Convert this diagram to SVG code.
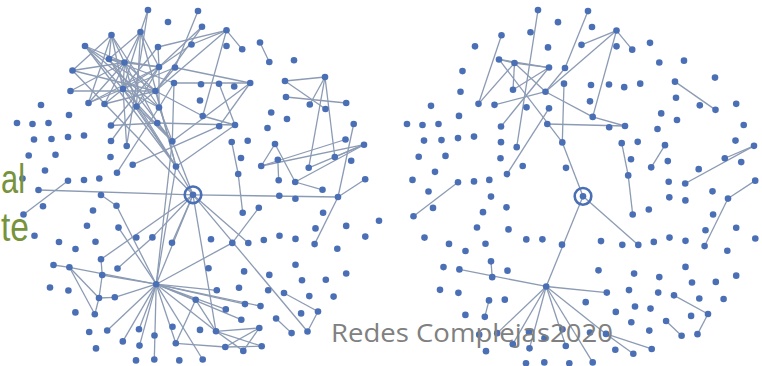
<svg xmlns="http://www.w3.org/2000/svg" xmlns:xlink="http://www.w3.org/1999/xlink" width="762" height="366" viewBox="0 0 762 366">
<style>
.e line{stroke:#8c9bb4;stroke-width:1.3;fill:none}
.n circle{fill:#4a6fb5}
.n circle.ring{fill:none;stroke:#4a6fb5;stroke-width:2.6}
.lbl{font-family:"Liberation Sans",Arial,sans-serif;font-size:40px;fill:#77933c}
.foot{font-family:"Open Sans","Liberation Sans",sans-serif;font-size:25px;fill:#808080}
</style>
<rect width="762" height="366" fill="#ffffff"/>
<g id="connectors">
<g id="edgesCommon" class="e">
<line x1="148" y1="10" x2="126.7" y2="146"/>
<line x1="111.5" y1="35" x2="88.5" y2="103"/>
<line x1="109" y1="59" x2="124.5" y2="62.5"/>
<line x1="109" y1="59" x2="159" y2="67"/>
<line x1="124.5" y1="62.5" x2="159" y2="67"/>
<line x1="124.5" y1="62.5" x2="123" y2="89"/>
<line x1="124.5" y1="62.5" x2="155.5" y2="91"/>
<line x1="123" y1="89" x2="159" y2="67"/>
<line x1="88.5" y1="103" x2="124.5" y2="62.5"/>
<line x1="104.5" y1="104" x2="155.5" y2="91"/>
<line x1="155.5" y1="91" x2="175" y2="67.5"/>
<line x1="109" y1="59" x2="172.3" y2="141.3"/>
<line x1="174" y1="83" x2="172.3" y2="141.3"/>
<line x1="111" y1="125.5" x2="159" y2="67"/>
<line x1="117" y1="172.7" x2="159" y2="107.5"/>
<line x1="198" y1="11" x2="175" y2="67.5"/>
<line x1="226.5" y1="30.3" x2="191.5" y2="44.5"/>
<line x1="226.5" y1="30.3" x2="242.2" y2="49.3"/>
<line x1="226.5" y1="30.3" x2="155.5" y2="91"/>
<line x1="226.5" y1="30.3" x2="202.7" y2="116"/>
<line x1="155.5" y1="91" x2="202.7" y2="116"/>
<line x1="157.3" y1="123" x2="235" y2="125"/>
<line x1="202.7" y1="116" x2="235" y2="125"/>
<line x1="231.7" y1="142" x2="238.2" y2="174"/>
<line x1="275" y1="144" x2="261.2" y2="166"/>
<line x1="285" y1="81" x2="325.5" y2="109"/>
<line x1="364" y1="144.7" x2="334.8" y2="157"/>
<line x1="364" y1="144.7" x2="295.2" y2="182"/>
<line x1="23.5" y1="214.5" x2="68" y2="180.8"/>
<line x1="69.4" y1="267.3" x2="156.2" y2="284.2"/>
<line x1="101" y1="259.3" x2="102.2" y2="275"/>
<line x1="99" y1="298" x2="94.8" y2="314.3"/>
<line x1="193" y1="194.8" x2="156.2" y2="284.2"/>
<line x1="156.2" y1="284.2" x2="216.8" y2="290.3"/>
<line x1="156.2" y1="284.2" x2="107.2" y2="330.5"/>
<line x1="156.2" y1="284.2" x2="122.8" y2="341.4"/>
<line x1="156.2" y1="284.2" x2="139.5" y2="345.6"/>
<line x1="156.2" y1="284.2" x2="175.8" y2="343.3"/>
<line x1="156.2" y1="284.2" x2="202.7" y2="359.5"/>
<line x1="156.2" y1="284.2" x2="216" y2="331.3"/>
<line x1="193" y1="194.8" x2="172.3" y2="141.3"/>
<line x1="193" y1="194.8" x2="248.3" y2="243"/>
<line x1="238.2" y1="174" x2="242.7" y2="212.8"/>
<line x1="338" y1="197" x2="365.2" y2="179.2"/>
<line x1="338" y1="197" x2="314.6" y2="244.1"/>
<line x1="284" y1="293" x2="318" y2="311.5"/>
<line x1="318" y1="311.5" x2="307.5" y2="331.5"/>
<line x1="276.1" y1="318.5" x2="291.6" y2="333.1"/>
<line x1="216" y1="331.3" x2="261.7" y2="346.2"/>
<line x1="216" y1="331.3" x2="243.3" y2="350.9"/>
</g>
<g id="edgesLeft" class="e">
<line x1="148" y1="10" x2="140.5" y2="32"/>
<line x1="111.5" y1="35" x2="109" y2="59"/>
<line x1="111.5" y1="35" x2="72.5" y2="70.5"/>
<line x1="111.5" y1="35" x2="123" y2="89"/>
<line x1="111.5" y1="35" x2="159" y2="107.5"/>
<line x1="111.5" y1="35" x2="124.5" y2="62.5"/>
<line x1="140.5" y1="32" x2="109" y2="59"/>
<line x1="140.5" y1="32" x2="123" y2="89"/>
<line x1="140.5" y1="32" x2="136.5" y2="106.5"/>
<line x1="140.5" y1="32" x2="176" y2="166.5"/>
<line x1="140.5" y1="32" x2="159" y2="67"/>
<line x1="85" y1="46" x2="124.5" y2="62.5"/>
<line x1="85" y1="46" x2="159" y2="107.5"/>
<line x1="85" y1="46" x2="176" y2="166.5"/>
<line x1="85" y1="46" x2="155.5" y2="91"/>
<line x1="85" y1="46" x2="123" y2="89"/>
<line x1="158" y1="47" x2="226.5" y2="30.3"/>
<line x1="158" y1="47" x2="123" y2="89"/>
<line x1="158" y1="47" x2="159" y2="67"/>
<line x1="109" y1="59" x2="174" y2="83"/>
<line x1="109" y1="59" x2="176" y2="166.5"/>
<line x1="124.5" y1="62.5" x2="136.5" y2="106.5"/>
<line x1="124.5" y1="62.5" x2="157.3" y2="123"/>
<line x1="159" y1="67" x2="136.5" y2="106.5"/>
<line x1="159" y1="67" x2="159" y2="107.5"/>
<line x1="175" y1="67.5" x2="123" y2="89"/>
<line x1="175" y1="67.5" x2="250.2" y2="83"/>
<line x1="72.5" y1="70.5" x2="124.5" y2="62.5"/>
<line x1="72.5" y1="70.5" x2="155.5" y2="91"/>
<line x1="72.5" y1="70.5" x2="193" y2="194.8"/>
<line x1="123" y1="89" x2="172.3" y2="141.3"/>
<line x1="123" y1="89" x2="176" y2="166.5"/>
<line x1="123" y1="89" x2="159" y2="107.5"/>
<line x1="155.5" y1="91" x2="136.5" y2="106.5"/>
<line x1="155.5" y1="91" x2="176" y2="166.5"/>
<line x1="70.5" y1="91" x2="155.5" y2="91"/>
<line x1="70.5" y1="91" x2="124.5" y2="62.5"/>
<line x1="88.5" y1="103" x2="159" y2="67"/>
<line x1="88.5" y1="103" x2="123" y2="89"/>
<line x1="104.5" y1="104" x2="140.5" y2="32"/>
<line x1="104.5" y1="104" x2="123" y2="89"/>
<line x1="136.5" y1="106.5" x2="176" y2="166.5"/>
<line x1="136.5" y1="106.5" x2="172.3" y2="141.3"/>
<line x1="159" y1="107.5" x2="172.3" y2="141.3"/>
<line x1="159" y1="107.5" x2="174" y2="83"/>
<line x1="111" y1="125.5" x2="157.3" y2="123"/>
<line x1="157.3" y1="123" x2="172.3" y2="141.3"/>
<line x1="111" y1="141" x2="136.5" y2="106.5"/>
<line x1="126.7" y1="146" x2="123" y2="89"/>
<line x1="132.7" y1="164.7" x2="219.2" y2="126.2"/>
<line x1="176" y1="166.5" x2="193" y2="194.8"/>
<line x1="172.3" y1="141.3" x2="250.2" y2="83"/>
<line x1="202" y1="26.8" x2="159" y2="67"/>
<line x1="202" y1="26.8" x2="155.5" y2="91"/>
<line x1="191.5" y1="44.5" x2="159" y2="67"/>
<line x1="219" y1="83.8" x2="235" y2="125"/>
<line x1="250.2" y1="83" x2="219.2" y2="126.2"/>
<line x1="174" y1="83" x2="250.2" y2="83"/>
<line x1="176" y1="166.5" x2="235" y2="125"/>
<line x1="260" y1="42.5" x2="269.3" y2="62"/>
<line x1="285" y1="81" x2="325" y2="77"/>
<line x1="325" y1="77" x2="309.8" y2="104.5"/>
<line x1="325" y1="77" x2="334.8" y2="157"/>
<line x1="325" y1="77" x2="308.7" y2="167.8"/>
<line x1="286" y1="97" x2="346.2" y2="103"/>
<line x1="353.7" y1="124" x2="338" y2="197"/>
<line x1="275" y1="144" x2="295.2" y2="182"/>
<line x1="364" y1="144.7" x2="261.2" y2="166"/>
<line x1="345.5" y1="139.5" x2="261.2" y2="166"/>
<line x1="364" y1="144.7" x2="308.7" y2="167.8"/>
<line x1="277.8" y1="159.8" x2="278.7" y2="180.3"/>
<line x1="295.2" y1="182" x2="322.5" y2="189.8"/>
<line x1="38.5" y1="190" x2="193" y2="194.8"/>
<line x1="193" y1="194.8" x2="338" y2="197"/>
<line x1="101" y1="195" x2="116.5" y2="205.7"/>
<line x1="116.5" y1="205.7" x2="156.2" y2="284.2"/>
<line x1="193" y1="194.8" x2="101" y2="259.3"/>
<line x1="193" y1="194.8" x2="172" y2="242.7"/>
<line x1="193" y1="194.8" x2="152.4" y2="237.4"/>
<line x1="117.5" y1="268.5" x2="152.4" y2="237.4"/>
<line x1="53.5" y1="265" x2="69.4" y2="267.3"/>
<line x1="69.4" y1="267.3" x2="99" y2="298"/>
<line x1="69.4" y1="267.3" x2="94.8" y2="314.3"/>
<line x1="102.2" y1="275" x2="99" y2="298"/>
<line x1="99" y1="298" x2="114.8" y2="297.3"/>
<line x1="102.2" y1="275" x2="156.2" y2="284.2"/>
<line x1="114.8" y1="297.3" x2="156.2" y2="284.2"/>
<line x1="156.2" y1="284.2" x2="139" y2="329.3"/>
<line x1="156.2" y1="284.2" x2="154.3" y2="359.5"/>
<line x1="156.2" y1="284.2" x2="195.7" y2="299.8"/>
<line x1="156.2" y1="284.2" x2="245" y2="304.1"/>
<line x1="156.2" y1="284.2" x2="260.5" y2="306.1"/>
<line x1="156.2" y1="284.2" x2="225.8" y2="309.4"/>
<line x1="156.2" y1="284.2" x2="241.3" y2="319.7"/>
<line x1="156.2" y1="284.2" x2="232.3" y2="242.9"/>
<line x1="156.2" y1="284.2" x2="118.5" y2="227.6"/>
<line x1="156.2" y1="284.2" x2="172.3" y2="141.3"/>
<line x1="156.2" y1="284.2" x2="176" y2="166.5"/>
<line x1="175.8" y1="343.3" x2="225.3" y2="347"/>
<line x1="175.8" y1="343.3" x2="195.7" y2="299.8"/>
<line x1="195.7" y1="299.8" x2="216" y2="331.3"/>
<line x1="216" y1="331.3" x2="259.3" y2="328"/>
<line x1="225.3" y1="347" x2="261.7" y2="346.2"/>
<line x1="225.3" y1="347" x2="259.3" y2="328"/>
<line x1="243.3" y1="350.9" x2="259.3" y2="328"/>
<line x1="258.8" y1="207.8" x2="232.3" y2="242.9"/>
<line x1="193" y1="194.8" x2="307.5" y2="331.5"/>
<line x1="193" y1="194.8" x2="216" y2="331.3"/>
</g>
<use href="#edgesCommon" xlink:href="#edgesCommon" transform="matrix(1,0,0,1.008,390,0)"/>
</g>
<g id="nodesLeft" class="n">
<g id="n1"><circle cx="148" cy="10" r="3.3"/></g>
<g id="n2"><circle cx="168" cy="22" r="3.3"/></g>
<g id="n3"><circle cx="111.5" cy="35" r="3.3"/></g>
<g id="n4"><circle cx="140.5" cy="32" r="3.3"/></g>
<g id="n5"><circle cx="85" cy="46" r="3.3"/></g>
<g id="n6"><circle cx="158" cy="47" r="3.3"/></g>
<g id="n7"><circle cx="109" cy="59" r="3.3"/></g>
<g id="n8"><circle cx="124.5" cy="62.5" r="3.3"/></g>
<g id="n9"><circle cx="159" cy="67" r="3.3"/></g>
<g id="n10"><circle cx="175" cy="67.5" r="3.3"/></g>
<g id="n11"><circle cx="72.5" cy="70.5" r="3.3"/></g>
<g id="n12"><circle cx="174" cy="83" r="3.3"/></g>
<g id="n13"><circle cx="123" cy="89" r="3.3"/></g>
<g id="n14"><circle cx="155.5" cy="91" r="3.3"/></g>
<g id="n15"><circle cx="70.5" cy="91" r="3.3"/></g>
<g id="n16"><circle cx="88.5" cy="103" r="3.3"/></g>
<g id="n17"><circle cx="104.5" cy="104" r="3.3"/></g>
<g id="n18"><circle cx="136.5" cy="106.5" r="3.3"/></g>
<g id="n19"><circle cx="159" cy="107.5" r="3.3"/></g>
<g id="n20"><circle cx="41" cy="105" r="3.3"/></g>
<g id="n21"><circle cx="69" cy="115" r="3.3"/></g>
<g id="n22"><circle cx="17" cy="123" r="3.3"/></g>
<g id="n23"><circle cx="32.5" cy="124" r="3.3"/></g>
<g id="n24"><circle cx="48.5" cy="123" r="3.3"/></g>
<g id="n25"><circle cx="111" cy="125.5" r="3.3"/></g>
<g id="n26"><circle cx="157.3" cy="123" r="3.3"/></g>
<g id="n27"><circle cx="34" cy="139.5" r="3.3"/></g>
<g id="n28"><circle cx="51.5" cy="139" r="3.3"/></g>
<g id="n29"><circle cx="68" cy="137" r="3.3"/></g>
<g id="n30"><circle cx="84" cy="135.5" r="3.3"/></g>
<g id="n31"><circle cx="111" cy="141" r="3.3"/></g>
<g id="n32"><circle cx="126.7" cy="146" r="3.3"/></g>
<g id="n33"><circle cx="172.3" cy="141.3" r="3.3"/></g>
<g id="n34"><circle cx="28.7" cy="155.5" r="3.3"/></g>
<g id="n35"><circle cx="55.5" cy="154.7" r="3.3"/></g>
<g id="n36"><circle cx="110.5" cy="157" r="3.3"/></g>
<g id="n37"><circle cx="132.7" cy="164.7" r="3.3"/></g>
<g id="n38"><circle cx="176" cy="166.5" r="3.3"/></g>
<g id="n39"><circle cx="45" cy="170.5" r="3.3"/></g>
<g id="n40"><circle cx="117" cy="172.7" r="3.3"/></g>
<g id="n41"><circle cx="22.5" cy="178.5" r="3.3"/></g>
<g id="n42"><circle cx="68" cy="180.8" r="3.3"/></g>
<g id="n43"><circle cx="84" cy="180" r="3.3"/></g>
<g id="n44"><circle cx="99.3" cy="178.5" r="3.3"/></g>
<g id="n45"><circle cx="198" cy="11" r="3.3"/></g>
<g id="n46"><circle cx="202" cy="26.8" r="3.3"/></g>
<g id="n47"><circle cx="226.5" cy="30.3" r="3.3"/></g>
<g id="n48"><circle cx="191.5" cy="44.5" r="3.3"/></g>
<g id="n49"><circle cx="226.5" cy="46" r="3.3"/></g>
<g id="n50"><circle cx="242.2" cy="49.3" r="3.3"/></g>
<g id="n51"><circle cx="260" cy="42.5" r="3.3"/></g>
<g id="n52"><circle cx="269.3" cy="62" r="3.3"/></g>
<g id="n53"><circle cx="294" cy="60.2" r="3.3"/></g>
<g id="n54"><circle cx="201" cy="84.3" r="3.3"/></g>
<g id="n55"><circle cx="219" cy="83.8" r="3.3"/></g>
<g id="n56"><circle cx="234.2" cy="86.5" r="3.3"/></g>
<g id="n57"><circle cx="250.2" cy="83" r="3.3"/></g>
<g id="n58"><circle cx="285" cy="81" r="3.3"/></g>
<g id="n59"><circle cx="325" cy="77" r="3.3"/></g>
<g id="n60"><circle cx="200" cy="100.5" r="3.3"/></g>
<g id="n61"><circle cx="286" cy="97" r="3.3"/></g>
<g id="n62"><circle cx="309.8" cy="104.5" r="3.3"/></g>
<g id="n63"><circle cx="325.5" cy="109" r="3.3"/></g>
<g id="n64"><circle cx="346.2" cy="103" r="3.3"/></g>
<g id="n65"><circle cx="202.7" cy="116" r="3.3"/></g>
<g id="n66"><circle cx="271.2" cy="112.5" r="3.3"/></g>
<g id="n67"><circle cx="287" cy="119" r="3.3"/></g>
<g id="n68"><circle cx="219.2" cy="126.2" r="3.3"/></g>
<g id="n69"><circle cx="235" cy="125" r="3.3"/></g>
<g id="n70"><circle cx="267.5" cy="128" r="3.3"/></g>
<g id="n71"><circle cx="353.7" cy="124" r="3.3"/></g>
<g id="n72"><circle cx="231.7" cy="142" r="3.3"/></g>
<g id="n73"><circle cx="247.7" cy="140.7" r="3.3"/></g>
<g id="n74"><circle cx="275" cy="144" r="3.3"/></g>
<g id="n75"><circle cx="345.5" cy="139.5" r="3.3"/></g>
<g id="n76"><circle cx="364" cy="144.7" r="3.3"/></g>
<g id="n77"><circle cx="241" cy="158" r="3.3"/></g>
<g id="n78"><circle cx="277.8" cy="159.8" r="3.3"/></g>
<g id="n79"><circle cx="261.2" cy="166" r="3.3"/></g>
<g id="n80"><circle cx="334.8" cy="157" r="3.3"/></g>
<g id="n81"><circle cx="351.2" cy="160.8" r="3.3"/></g>
<g id="n82"><circle cx="308.7" cy="167.8" r="3.3"/></g>
<g id="n83"><circle cx="238.2" cy="174" r="3.3"/></g>
<g id="n84"><circle cx="278.7" cy="180.3" r="3.3"/></g>
<g id="n85"><circle cx="295.2" cy="182" r="3.3"/></g>
<g id="n86"><circle cx="365.2" cy="179.2" r="3.3"/></g>
<g id="n87"><circle cx="38.5" cy="190" r="3.3"/></g>
<g id="n89"><circle cx="43" cy="206.3" r="3.3"/></g>
<g id="n90"><circle cx="23.5" cy="214.5" r="3.3"/></g>
<g id="n91"><circle cx="101" cy="195" r="3.3"/></g>
<g id="n92"><circle cx="116.5" cy="205.7" r="3.3"/></g>
<g id="n93"><circle cx="93" cy="210.5" r="3.3"/></g>
<g id="n94"><circle cx="87" cy="225.7" r="3.3"/></g>
<g id="n95"><circle cx="118.5" cy="227.6" r="3.3"/></g>
<g id="n96"><circle cx="34.5" cy="235.7" r="3.3"/></g>
<g id="n97"><circle cx="59" cy="242" r="3.3"/></g>
<g id="n98"><circle cx="75.5" cy="249" r="3.3"/></g>
<g id="n99"><circle cx="95.5" cy="241.8" r="3.3"/></g>
<g id="n100"><circle cx="136.3" cy="237.5" r="3.3"/></g>
<g id="n101"><circle cx="152.4" cy="237.4" r="3.3"/></g>
<g id="n102"><circle cx="172" cy="242.7" r="3.3"/></g>
<g id="n103"><circle cx="53.5" cy="265" r="3.3"/></g>
<g id="n104"><circle cx="69.4" cy="267.3" r="3.3"/></g>
<g id="n105"><circle cx="101" cy="259.3" r="3.3"/></g>
<g id="n106"><circle cx="117.5" cy="268.5" r="3.3"/></g>
<g id="n107"><circle cx="102.2" cy="275" r="3.3"/></g>
<g id="n108"><circle cx="156.2" cy="284.2" r="3.3"/></g>
<g id="n109"><circle cx="50" cy="287.5" r="3.3"/></g>
<g id="n110"><circle cx="68.4" cy="290.5" r="3.3"/></g>
<g id="n111"><circle cx="99" cy="298" r="3.3"/></g>
<g id="n112"><circle cx="114.8" cy="297.3" r="3.3"/></g>
<g id="n113"><circle cx="75.4" cy="312.4" r="3.3"/></g>
<g id="n114"><circle cx="94.8" cy="314.3" r="3.3"/></g>
<g id="n115"><circle cx="89.2" cy="332" r="3.3"/></g>
<g id="n116"><circle cx="107.2" cy="330.5" r="3.3"/></g>
<g id="n117"><circle cx="139" cy="329.3" r="3.3"/></g>
<g id="n118"><circle cx="154.5" cy="335.5" r="3.3"/></g>
<g id="n119"><circle cx="172.5" cy="326.7" r="3.3"/></g>
<g id="n120"><circle cx="122.8" cy="341.4" r="3.3"/></g>
<g id="n121"><circle cx="139.5" cy="345.6" r="3.3"/></g>
<g id="n122"><circle cx="175.8" cy="343.3" r="3.3"/></g>
<g id="n123"><circle cx="96" cy="348.4" r="3.3"/></g>
<g id="n124"><circle cx="136" cy="360.4" r="3.3"/></g>
<g id="n125"><circle cx="154.3" cy="359.5" r="3.3"/></g>
<g id="n126"><circle cx="179.3" cy="360.4" r="3.3"/></g>
<g id="hub"><circle cx="193" cy="194.8" r="3.3"/><circle class="ring" cx="193" cy="194.8" r="8.3"/></g>
<g id="a1"><circle cx="279.3" cy="195.8" r="3.3"/></g>
<g id="a2"><circle cx="295.4" cy="198.8" r="3.3"/></g>
<g id="a3"><circle cx="338" cy="197" r="3.3"/></g>
<g id="a4"><circle cx="322.5" cy="189.8" r="3.3"/></g>
<g id="a5"><circle cx="242.7" cy="212.8" r="3.3"/></g>
<g id="a6"><circle cx="258.8" cy="207.8" r="3.3"/></g>
<g id="a7"><circle cx="323.1" cy="212.8" r="3.3"/></g>
<g id="a8"><circle cx="315.5" cy="228.4" r="3.3"/></g>
<g id="a9"><circle cx="346.2" cy="225.9" r="3.3"/></g>
<g id="a10"><circle cx="379" cy="220.7" r="3.3"/></g>
<g id="a11"><circle cx="365.3" cy="236.6" r="3.3"/></g>
<g id="a12"><circle cx="211" cy="239.2" r="3.3"/></g>
<g id="a13"><circle cx="232.3" cy="242.9" r="3.3"/></g>
<g id="a14"><circle cx="248.3" cy="243" r="3.3"/></g>
<g id="a15"><circle cx="263.8" cy="240" r="3.3"/></g>
<g id="a16"><circle cx="279.5" cy="235.7" r="3.3"/></g>
<g id="a17"><circle cx="295.5" cy="238.9" r="3.3"/></g>
<g id="a18"><circle cx="314.6" cy="244.1" r="3.3"/></g>
<g id="a19"><circle cx="337.3" cy="248.8" r="3.3"/></g>
<g id="a20"><circle cx="208.5" cy="268.2" r="3.3"/></g>
<g id="a21"><circle cx="244.1" cy="271.4" r="3.3"/></g>
<g id="a22"><circle cx="269.3" cy="274.9" r="3.3"/></g>
<g id="a23"><circle cx="295.5" cy="264.8" r="3.3"/></g>
<g id="a24"><circle cx="302" cy="280.3" r="3.3"/></g>
<g id="a25"><circle cx="325.8" cy="279.7" r="3.3"/></g>
<g id="a26"><circle cx="346.2" cy="273.5" r="3.3"/></g>
<g id="a27"><circle cx="216.8" cy="290.3" r="3.3"/></g>
<g id="a28"><circle cx="239" cy="287.8" r="3.3"/></g>
<g id="a29"><circle cx="268.2" cy="290.3" r="3.3"/></g>
<g id="a30"><circle cx="284" cy="293" r="3.3"/></g>
<g id="a31"><circle cx="309.3" cy="296.1" r="3.3"/></g>
<g id="a32"><circle cx="333.6" cy="296.6" r="3.3"/></g>
<g id="a33"><circle cx="195.7" cy="299.8" r="3.3"/></g>
<g id="a34"><circle cx="225.8" cy="309.4" r="3.3"/></g>
<g id="a35"><circle cx="245" cy="304.1" r="3.3"/></g>
<g id="a36"><circle cx="260.5" cy="306.1" r="3.3"/></g>
<g id="a37"><circle cx="301.1" cy="313.4" r="3.3"/></g>
<g id="a38"><circle cx="318" cy="311.5" r="3.3"/></g>
<g id="a39"><circle cx="241.3" cy="319.7" r="3.3"/></g>
<g id="a40"><circle cx="276.1" cy="318.5" r="3.3"/></g>
<g id="a41"><circle cx="200" cy="329.9" r="3.3"/></g>
<g id="a42"><circle cx="216" cy="331.3" r="3.3"/></g>
<g id="a43"><circle cx="259.3" cy="328" r="3.3"/></g>
<g id="a44"><circle cx="291.6" cy="333.1" r="3.3"/></g>
<g id="a45"><circle cx="307.5" cy="331.5" r="3.3"/></g>
<g id="a46"><circle cx="225.3" cy="347" r="3.3"/></g>
<g id="a47"><circle cx="243.3" cy="350.9" r="3.3"/></g>
<g id="a48"><circle cx="261.7" cy="346.2" r="3.3"/></g>
<g id="a49"><circle cx="202.7" cy="359.5" r="3.3"/></g>
</g>
<use id="nodesRight" href="#nodesLeft" xlink:href="#nodesLeft" transform="matrix(1,0,0,1.008,390,0)"/>
<text class="lbl" x="1" y="193" textLength="24" lengthAdjust="spacingAndGlyphs">al</text>
<text class="lbl" x="1" y="241" textLength="28" lengthAdjust="spacingAndGlyphs">te</text>
<text class="foot" x="331" y="342" textLength="282" lengthAdjust="spacingAndGlyphs">Redes Complejas2020</text>
</svg>
